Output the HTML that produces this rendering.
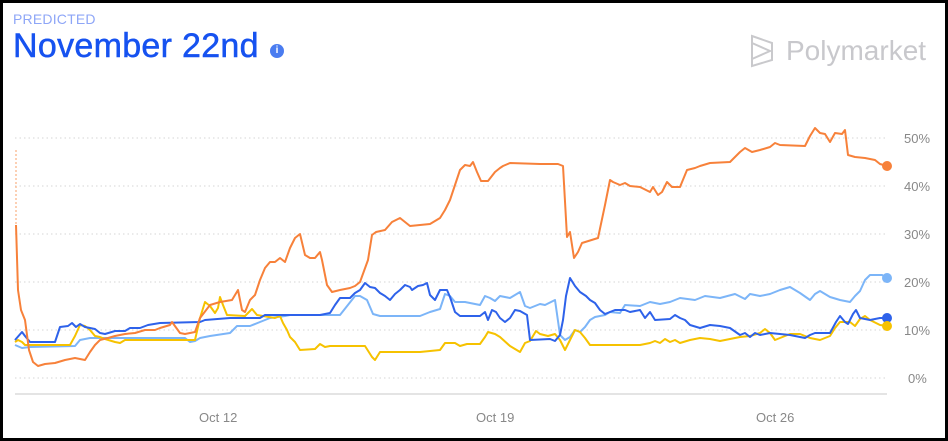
<!DOCTYPE html>
<html><head><style>
html,body{margin:0;padding:0;background:#fff}
#c{position:relative;width:948px;height:441px;box-sizing:border-box;border:3px solid #000;overflow:hidden;font-family:"Liberation Sans",sans-serif}
.t{position:absolute;white-space:nowrap}
</style></head><body><div id="c">
<div class="t" style="left:10px;top:8px;font-size:14px;color:#8ea6f7;letter-spacing:0.2px">PREDICTED</div>
<div class="t" style="left:10px;top:24px;font-size:34px;color:#1652f0;letter-spacing:0.3px;-webkit-text-stroke:0.5px #1652f0">November 22nd</div>
<div class="t" style="left:267px;top:41px;width:14px;height:14px;border-radius:50%;background:#4a7cf0;color:#fff;font-size:10px;font-weight:bold;text-align:center;line-height:14px">i</div>
<svg class="t" style="left:-3px;top:-3px" width="948" height="441">
<g fill="none" stroke="#c9c9cc" stroke-width="2"><path d="M752 36 L772 43 L772 60 L752 66 Z M752 36 L752 66 M752 43 L770 51 L752 59"/></g>
<text x="786" y="60" font-family="Liberation Sans" font-size="28" fill="#c8c8cc">Polymarket</text>
<g stroke="#d6d6d6" stroke-dasharray="1.5,3"><line x1="15" x2="885" y1="138" y2="138"/><line x1="15" x2="885" y1="186" y2="186"/><line x1="15" x2="885" y1="234" y2="234"/><line x1="15" x2="885" y1="282" y2="282"/><line x1="15" x2="885" y1="330" y2="330"/><line x1="15" x2="885" y1="378" y2="378"/></g>
<line x1="15" x2="887" y1="394" y2="394" stroke="#dcdcdc" stroke-width="1.5"/>
<g font-family="Liberation Sans" font-size="13" fill="#888"><text x="904" y="143">50%</text><text x="904" y="191">40%</text><text x="904" y="239">30%</text><text x="904" y="287">20%</text><text x="904" y="335">10%</text><text x="908" y="383">0%</text>
<text x="199" y="422">Oct 12</text><text x="476" y="422">Oct 19</text><text x="756" y="422">Oct 26</text></g>
<line x1="16" y1="150" x2="16" y2="225" stroke="#f9a06a" stroke-width="1" stroke-dasharray="2,2"/>
<g fill="none" stroke-width="2" stroke-linejoin="round">
<polyline stroke="#7cb5f8" points="15,345 22,348 30,347 75,346 80,340 90,338 185,338 190,342 195,341 200,338 210,336 230,333 237,326 250,326 260,322 270,318 285,316 290,315 340,315 355,296 360,296 367,300 373,314 380,316 420,316 430,312 440,309 445,294 450,296 455,302 465,302 480,305 485,296 490,298 495,301 500,296 510,298 520,292 525,306 530,308 540,304 545,305 555,300 560,335 565,340 570,337 575,330 580,332 585,327 590,320 595,317 605,315 610,312 620,313 625,305 640,306 650,302 660,304 670,302 680,298 695,300 705,296 720,298 735,294 745,299 750,294 760,296 770,294 780,290 790,287 800,293 810,300 815,294 820,291 830,297 840,300 850,302 855,296 860,291 865,280 870,275 882,275 887,278"/>
<polyline stroke="#f6c200" points="15,342 18,340 22,342 25,345 70,345 75,336 80,325 85,326 90,330 95,336 100,337 105,339 115,342 120,343 125,340 195,340 200,318 205,302 210,306 215,313 218,308 220,297 223,305 227,315 245,316 252,309 257,315 275,318 280,316 283,323 287,330 290,337 295,342 300,350 315,349 320,344 325,347 330,346 365,346 372,357 375,360 380,352 420,352 440,350 445,343 455,343 460,346 467,344 480,344 485,337 488,332 495,334 500,337 510,346 520,352 525,343 530,341 536,331 540,334 548,336 555,334 560,340 565,350 570,340 575,330 580,332 585,338 590,345 640,345 650,343 655,341 660,343 665,339 670,342 675,340 680,343 690,340 700,338 710,339 720,341 730,339 740,337 750,336 760,333 765,329 770,333 775,340 780,338 790,334 800,334 810,338 820,340 830,336 835,328 840,322 850,322 855,326 860,319 865,316 870,320 880,325 887,326"/>
<polyline stroke="#2e62ea" points="15,340 22,332 25,336 30,342 55,342 60,327 68,326 72,323 76,327 80,324 85,327 95,329 100,333 105,334 115,331 125,331 130,328 140,328 148,325 160,323 200,322 205,320 230,318 260,318 265,315 320,315 330,313 335,305 340,298 350,298 355,293 360,290 365,283 370,287 375,288 380,293 385,296 390,300 395,294 400,290 405,285 410,287 412,290 418,286 423,285 427,283 430,295 435,300 440,290 447,290 450,297 455,312 460,316 480,316 485,312 488,320 492,310 496,312 500,318 505,322 510,318 515,310 520,311 527,315 530,340 550,339 555,341 560,335 563,320 566,296 570,278 575,286 580,292 586,296 590,300 595,303 600,310 605,314 615,310 625,310 630,312 640,310 645,318 650,312 655,320 670,319 675,315 680,318 685,320 690,325 700,328 710,325 720,326 730,328 740,335 745,333 750,337 755,333 760,335 770,333 790,335 805,338 810,335 815,333 830,333 836,322 840,316 845,322 848,324 853,314 856,310 860,318 870,320 880,318 887,318"/>
<polyline stroke="#f7813a" points="16,225 18,290 21,310 25,320 29,350 33,362 38,366 45,364 55,363 65,360 75,358 85,360 90,352 95,345 100,340 108,338 115,336 125,334 135,333 145,330 155,330 160,328 170,325 172,322 180,333 185,334 195,332 200,318 210,305 220,302 232,300 238,290 242,310 245,312 250,300 255,295 260,280 265,268 270,262 275,262 280,258 285,262 290,248 295,238 300,234 305,255 310,258 315,258 320,252 322,260 327,285 332,292 340,290 350,288 355,286 360,282 368,260 372,235 376,232 385,230 392,222 400,218 410,226 430,224 440,218 445,210 450,200 455,185 460,170 465,165 470,166 473,162 477,172 481,181 488,181 495,172 500,168 503,166 510,163 540,164 558,164 563,166 567,237 570,232 574,258 578,252 582,243 598,238 605,205 610,180 613,182 620,185 625,183 630,186 640,187 650,192 653,187 658,195 662,192 667,182 672,187 680,187 687,170 695,168 700,166 710,163 730,162 740,152 745,148 752,152 760,150 770,147 775,143 780,145 805,146 810,136 815,128 820,133 825,134 830,142 835,133 842,134 845,130 848,155 855,157 865,158 875,160 880,164 887,166"/>
</g>
<circle cx="887" cy="278" r="5" fill="#7cb5f8"/>
<circle cx="887" cy="318" r="5" fill="#2e62ea"/>
<circle cx="887" cy="326" r="5" fill="#f6c200"/>
<circle cx="887" cy="166" r="5" fill="#f7813a"/>
</svg>
</div></body></html>
